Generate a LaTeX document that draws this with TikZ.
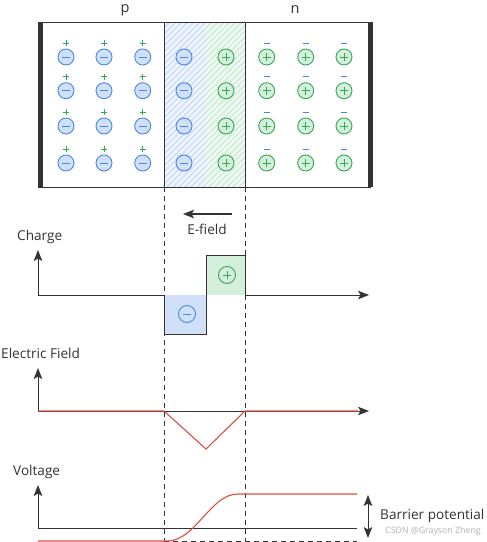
\documentclass[tikz,border=0pt]{standalone}
\usepackage{fontspec}
\setmainfont{Open Sans}
\usetikzlibrary{arrows.meta}
\definecolor{bstroke}{RGB}{74,134,232}
\definecolor{bfill}{RGB}{208,224,248}
\definecolor{gstroke}{RGB}{52,168,83}
\definecolor{gfill}{RGB}{212,239,220}
\definecolor{bhatch}{RGB}{214,228,250}
\definecolor{ghatch}{RGB}{214,240,222}
\definecolor{dark}{RGB}{51,51,51}
\definecolor{redline}{RGB}{222,78,64}
\tikzset{
  ion/.style={circle, line width=0.9pt, minimum size=16pt, inner sep=0pt},
  negion/.style={ion, draw=bstroke, fill=bfill,
    path picture={\draw[bstroke, line width=0.6pt] ([xshift=-4pt]path picture bounding box.center) -- ([xshift=4pt]path picture bounding box.center);}},
  posion/.style={ion, draw=gstroke, fill=gfill,
    path picture={\draw[gstroke, line width=0.6pt] ([xshift=-4pt]path picture bounding box.center) -- ([xshift=4pt]path picture bounding box.center)
      ([yshift=-4pt]path picture bounding box.center) -- ([yshift=4pt]path picture bounding box.center);}},
  lbl/.style={anchor=west, inner sep=0pt, text=dark},
  axis/.style={dark, line width=1pt},
  tip/.tip={Stealth[length=11pt,width=8.5pt,inset=2.5pt]},
  arr/.style={-tip},
  guide/.style={dark, line width=0.8pt, dash pattern=on 5pt off 4pt},
  curve/.style={redline, line width=1.1pt},
}
\begin{document}
\begin{tikzpicture}[x=1pt,y=-1pt, font=\fontsize{13.6}{16}\selectfont]
\useasboundingbox (0,0) rectangle (487,542);

% depletion region hatching
\fill[bhatch] (164,22) rectangle (206,187);
\fill[ghatch] (206,22) rectangle (245,187);
\begin{scope}
  \clip (164,22) rectangle (245,187);
  \foreach \k in {0,6,...,270} \draw[white, line width=1.4pt] (\k-10,187) -- ++(175,-175);
\end{scope}

% crystal box
\draw[dark, line width=1pt] (38,22) rectangle (370,187);
\draw[dark, line width=5pt] (40,22) -- (40,187);
\draw[dark, line width=4.5pt] (370.5,22) -- (370.5,187);
\draw[dark, line width=1pt] (164,22) -- (164,187);
\draw[dark, line width=1pt] (245,22) -- (245,187);

\node[text=dark, font=\fontsize{14.5}{16}\selectfont] (plabel) at (125,10) {p};
\node[text=dark, font=\fontsize{14.5}{16}\selectfont] (nlabel) at (295,10) {n};

% ions
\foreach \y [count=\r] in {57,90.7,126,163} {
  \foreach \x [count=\c] in {66,104,142.7} {
    \node[negion] (pn-\r-\c) at (\x,\y) {};
    \draw[gstroke, line width=0.6pt] (\x-3,\y-14) -- (\x+3,\y-14) (\x,\y-17) -- (\x,\y-11);
  }
  \node[negion] (dn-\r) at (184,\y) {};
  \node[posion] (dp-\r) at (226,\y) {};
  \foreach \x [count=\c] in {266.7,305.7,344} {
    \node[posion] (np-\r-\c) at (\x,\y) {};
    \draw[bstroke, line width=0.6pt] (\x-3,\y-14) -- (\x+3,\y-14);
  }
}

% dashed guides
\coordinate (gl-top) at (164,187);
\coordinate (gl-bot) at (164,542);
\coordinate (gr-top) at (245,187);
\coordinate (gr-bot) at (245,542);
\draw[guide] (gl-top) -- (gl-bot);
\draw[guide] (gr-top) -- (gr-bot);

% E-field
\coordinate (ef-start) at (232,214);
\coordinate (ef-end) at (183,214);
\draw[axis, arr, line width=1.2pt] (ef-start) -- (ef-end);
\node[text=dark] (eflabel) at (207,229) {E-field};

% Charge graph
\node[lbl] (chlabel) at (17,237) {Charge};
\coordinate (ch-o) at (38,295);
\coordinate (ch-y) at (38,250);
\coordinate (ch-x) at (369,295);
\fill[bfill] (164,295) rectangle (206,334);
\fill[gfill] (206,255) rectangle (245,295);
\draw[axis, arr] (ch-o) -- (ch-y);
\draw[axis] (ch-o) -- (164,295) -- (164,334) -- (206,334) -- (206,255) -- (245,255) -- (245,295);
\coordinate (ch-r) at (245,295);
\draw[axis, arr] (ch-r) -- (ch-x);
\node[negion, minimum size=17pt] (chneg) at (187,314) {};
\node[posion, minimum size=17pt] (chpos) at (227,275) {};

% Electric field graph
\node[lbl] (eflab) at (1,353) {Electric Field};
\coordinate (ef-o) at (38,411);
\coordinate (ef-y) at (38,368);
\coordinate (ef-x) at (369,411);
\draw[axis, arr] (ef-o) -- (ef-y);
\draw[axis, arr] (ef-o) -- (ef-x);
\draw[curve] (ef-o) -- (164,411) -- (206,449) -- (245,411) -- (358,411);

% Voltage graph
\node[lbl] (vlabel) at (13,472) {Voltage};
\coordinate (v-o) at (38,528);
\coordinate (v-y) at (38,485);
\coordinate (v-x) at (357,528);
\draw[axis, arr] (v-o) -- (v-y);
\draw[axis] (v-o) -- (v-x);
\coordinate (vd-l) at (164,541);
\coordinate (vd-r) at (357,541);
\draw[guide] (vd-l) -- (vd-r);
\coordinate (vr-l) at (38,541);
\coordinate (vr-r) at (357,494);
\draw[curve] (vr-l) -- (167,541) .. controls (196,541) and (210,494) .. (238,494) -- (vr-r);
\coordinate (bp-top) at (368,495);
\coordinate (bp-bot) at (368,538);
\draw[axis, tip-tip] (bp-top) -- (bp-bot);
\node[lbl] (bplabel) at (380,516) {Barrier potential};
\node[lbl, text=black!30, font=\fontsize{8.8}{10}\selectfont] (wm) at (385,531) {CSDN @Grayson Zheng};
\end{tikzpicture}
\end{document}
